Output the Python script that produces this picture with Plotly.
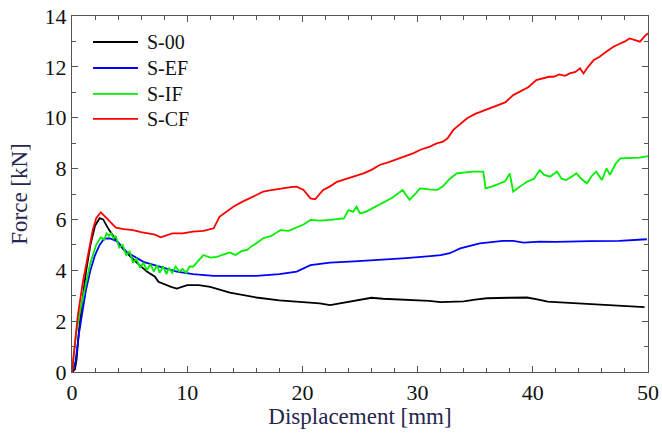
import plotly.graph_objects as go

# S-00 (black)
s00_x = [0.0, 0.25, 0.4, 0.6, 0.9, 1.2, 1.6, 2.0, 2.4, 2.7, 3.2, 3.8, 4.5, 5.5, 6.5, 7.2, 7.5, 8.0, 8.6, 9.1, 9.5, 10.0,
         11.0, 12.0, 13.7, 16.0, 18.0, 20.0, 21.5, 22.4, 23.5, 25.0, 26.0, 27.0, 29.0, 31.0, 32.0, 34.0, 35.0, 36.0,
         38.0, 39.5, 40.5, 41.3, 42.0, 44.0, 46.0, 48.0, 49.7]
s00_y = [0.0, 0.1, 0.5, 1.6, 2.8, 3.9, 5.0, 5.75, 6.05, 6.0, 5.6, 5.2, 4.8, 4.35, 3.95, 3.75, 3.55, 3.45, 3.35, 3.28, 3.35, 3.42,
         3.42, 3.35, 3.12, 2.93, 2.82, 2.75, 2.7, 2.63, 2.72, 2.82, 2.92, 2.88, 2.85, 2.8, 2.75, 2.78, 2.85, 2.9,
         2.92, 2.93, 2.85, 2.77, 2.75, 2.7, 2.65, 2.6, 2.55]

# S-EF (blue)
sef_x = [0.0, 0.3, 0.6, 0.9, 1.2, 1.6, 2.0, 2.4, 2.8, 3.3, 3.9, 4.8, 6.2, 7.6, 9.1, 10.5, 12.3, 14.0, 16.0, 18.0, 19.5,
         20.7, 22.4, 24.5, 26.7, 29.0, 31.1, 32.0, 32.8, 33.7, 35.4, 37.4, 38.3, 39.2, 40.6, 42.0, 45.0, 47.5, 49.9]
sef_y = [0.0, 0.4, 1.5, 2.4, 3.2, 4.0, 4.6, 5.0, 5.25, 5.25, 5.15, 4.7, 4.33, 4.14, 3.95, 3.85, 3.78, 3.78, 3.78, 3.85, 3.95,
         4.2, 4.3, 4.35, 4.4, 4.48, 4.56, 4.6, 4.67, 4.86, 5.06, 5.16, 5.16, 5.09, 5.13, 5.12, 5.15, 5.16, 5.22]

# S-IF (green)
sif_x = [0.0, 0.2, 0.35, 0.7, 1.2, 1.6, 2.1, 2.5, 2.8, 3.0, 3.2, 3.4, 3.6, 3.8, 4.1, 4.4, 4.7, 5.0, 5.3, 5.6, 5.9, 6.2,
         6.5, 6.8, 7.1, 7.4, 7.6, 7.9, 8.2, 8.4, 8.7, 9.0, 9.3, 9.6, 9.9, 10.2, 10.5, 11.0, 11.4, 12.0, 12.6, 13.0,
         13.4, 13.7, 14.2, 14.7, 15.2, 15.6, 16.0, 16.6, 17.3, 18.1, 18.8, 19.5, 20.1, 20.7, 21.5, 22.4, 23.0, 23.6,
         24.0, 24.4, 24.7, 25.0, 25.5, 26.1, 27.0, 27.8, 28.7, 29.3, 29.8, 30.2, 31.0, 31.7, 32.2, 32.8, 33.4, 34.0,
         34.8, 35.7, 35.9, 36.5, 37.2, 37.6, 38.0, 38.3, 38.9, 39.5, 40.1, 40.6, 41.0, 41.5, 42.1, 42.5, 42.9, 43.4,
         43.8, 44.2, 44.7, 45.1, 45.5, 46.0, 46.4, 46.7, 47.2, 47.6, 48.5, 49.3, 50.0]
sif_y = [0.0, 0.8, 1.5, 2.4, 3.5, 4.3, 5.0, 5.3, 5.2, 5.45, 5.35, 5.45, 5.25, 5.35, 4.9, 5.0, 4.6, 4.75, 4.3, 4.45, 4.1, 4.3,
         4.0, 4.25, 3.95, 4.2, 3.9, 4.15, 3.85, 4.1, 3.9, 4.15, 3.95, 4.05, 3.9, 4.15, 4.14, 4.4, 4.6, 4.5, 4.53, 4.6,
         4.67, 4.7, 4.6, 4.75, 4.8, 4.95, 5.06, 5.26, 5.35, 5.58, 5.55, 5.69, 5.8, 5.98, 5.95, 5.98, 6.0, 6.04,
         6.37, 6.3, 6.5, 6.24, 6.3, 6.45, 6.65, 6.85, 7.16, 6.77, 7.0, 7.22, 7.18, 7.16, 7.3, 7.6, 7.81, 7.85,
         7.88, 7.88, 7.22, 7.3, 7.42, 7.5, 7.81, 7.09, 7.3, 7.48, 7.6, 7.94, 7.75, 7.68, 7.88, 7.6, 7.55, 7.7,
         7.81, 7.6, 7.42, 7.7, 7.88, 7.55, 8.01, 7.75, 8.2, 8.4, 8.42, 8.43, 8.49]

# S-CF (red)
scf_x = [0.0, 0.2, 0.5, 0.93, 1.4, 1.8, 2.1, 2.5, 3.0, 3.8, 4.5, 5.3, 6.0, 6.7, 7.2, 7.7, 8.2, 8.7, 9.6, 10.5, 11.4,
         12.3, 12.8, 13.4, 14.0, 14.8, 15.7, 16.6, 17.3, 18.1, 19.0, 19.5, 20.1, 20.7, 21.1, 21.8, 22.4, 23.0, 24.0,
         25.3, 26.0, 26.7, 27.5, 28.3, 29.0, 29.6, 30.3, 31.0, 31.6, 32.2, 32.6, 33.1, 33.6, 34.3, 35.0, 35.6, 36.3,
         37.0, 37.6, 38.3, 39.0, 39.6, 40.3, 40.9, 41.4, 41.8, 42.3, 42.8, 43.2, 43.7, 44.1, 44.4, 44.8, 45.3, 45.8,
         46.4, 47.0, 47.5, 48.0, 48.4, 48.8, 49.3, 49.7, 50.0]
scf_y = [0.0, 1.0, 2.2, 3.5, 4.7, 5.58, 6.05, 6.28, 6.05, 5.68, 5.62, 5.58, 5.5, 5.45, 5.4, 5.3, 5.38, 5.45, 5.45, 5.52, 5.55,
         5.65, 6.1, 6.3, 6.5, 6.7, 6.9, 7.09, 7.15, 7.22, 7.27, 7.29, 7.16, 6.83, 6.79, 7.16, 7.3, 7.48, 7.62,
         7.81, 7.95, 8.14, 8.25, 8.4, 8.5, 8.6, 8.75, 8.85, 8.98, 9.06, 9.19, 9.52, 9.7, 9.98, 10.15, 10.25, 10.37,
         10.5, 10.6, 10.89, 11.05, 11.2, 11.48, 11.55, 11.61, 11.61, 11.7, 11.65, 11.74, 11.8, 11.94, 11.74, 12.0, 12.27, 12.4,
         12.6, 12.79, 12.9, 13.0, 13.12, 13.05, 12.99, 13.2, 13.32]

series_names = ["S-00", "S-EF", "S-IF", "S-CF"]
series_colors = ["#000000", "#0000ff", "#00ee00", "#ff0000"]
series_x = [s00_x, sef_x, sif_x, scf_x]
series_y = [s00_y, sef_y, sif_y, scf_y]

font_family = "Liberation Serif"

fig = go.Figure()
for name, xs, ys, col in zip(series_names, series_x, series_y, series_colors):
    fig.add_trace(go.Scatter(x=xs, y=ys, mode="lines", name=name, showlegend=False,
                             line=dict(color=col, width=1.8)))

# Legend drawn in paper coordinates (key lines + labels)
leg_x0, leg_x1, leg_tx = 0.0365, 0.1146, 0.1267
leg_rows = [0.927, 0.854, 0.781, 0.711]
for name, col, ly in zip(series_names, series_colors, leg_rows):
    fig.add_shape(type="line", xref="paper", yref="paper", x0=leg_x0, x1=leg_x1, y0=ly, y1=ly,
                  line=dict(color=col, width=1.8))
    fig.add_annotation(xref="paper", yref="paper", x=leg_tx, y=ly, text=name, showarrow=False,
                       xanchor="left", yanchor="middle",
                       font=dict(family=font_family, size=20, color="#111111"))

axis_common = dict(
    showline=True, linecolor="#555555", linewidth=1.2, mirror="ticks",
    ticks="inside", ticklen=6, tickcolor="#555555", tickwidth=1,
    showgrid=False, zeroline=False, automargin=False,
    tickfont=dict(family=font_family, size=22, color="#111111"),
)

fig.update_layout(
    template="none",
    width=662, height=434,
    margin=dict(l=72, r=14, t=16, b=62),
    paper_bgcolor="white", plot_bgcolor="white",
    font=dict(family=font_family, color="#111111"),
    showlegend=False,
    xaxis=dict(range=[0, 50], dtick=10, tick0=0,
               minor=dict(dtick=2, ticks="inside", ticklen=4, tickcolor="#555555"),
               title=dict(text="Displacement [mm]", standoff=1,
                          font=dict(family=font_family, size=23, color="#262650")),
               **axis_common),
    yaxis=dict(range=[0, 14], dtick=2, tick0=0,
               minor=dict(dtick=1, ticks="inside", ticklen=4, tickcolor="#555555"),
               title=dict(text="Force [kN]", standoff=10,
                          font=dict(family=font_family, size=23, color="#262650")),
               **axis_common),
)

fig.write_html("out.html")
